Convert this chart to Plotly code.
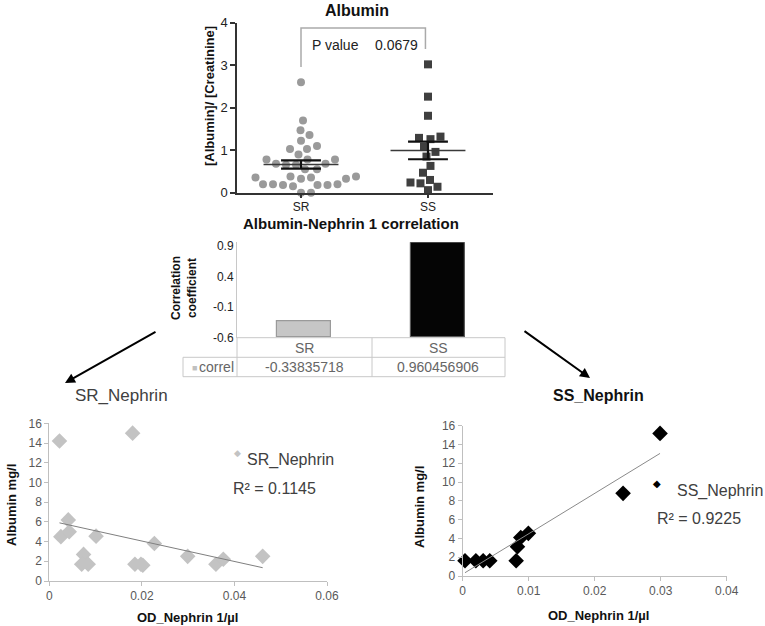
import numpy as np
import plotly.graph_objects as go

W, H = 765, 626
FONT = "Liberation Sans, Arial, sans-serif"

# ---------------- data ----------------
groups = ["SR", "SS"]
sr_ratio = [2.6, 1.7, 1.47, 1.36, 1.22, 1.1, 1.03, 1.03, 0.9, 0.78, 0.78, 0.78,
            0.68, 0.68, 0.66, 0.66, 0.55, 0.55, 0.38, 0.38, 0.36, 0.36, 0.33, 0.33,
            0.2, 0.2, 0.2, 0.18, 0.18, 0.18, 0.15, 0.0, 0.0]
ss_ratio = [3.02, 2.26, 1.81, 1.32, 1.26, 1.29, 1.08, 0.96, 0.85, 0.63, 0.47,
            0.3, 0.22, 0.14, 0.24, 0.06]
p_value_label = "0.0679"

correl_groups = ["SR", "SS"]
correl_values = [-0.33835718, 0.960456906]
correl_ticks = [-0.6, -0.1, 0.4, 0.9]

sr_x = [0.0022, 0.018, 0.0025, 0.0041, 0.0043, 0.0101, 0.0074, 0.007, 0.0084,
        0.0185, 0.0198, 0.0202, 0.0227, 0.0299, 0.036, 0.0376, 0.0461]
sr_y = [14.2, 15.0, 4.5, 6.2, 5.0, 4.55, 2.7, 1.7, 1.7, 1.7, 1.7, 1.6, 3.8,
        2.5, 1.7, 2.2, 2.5]
sr_trend_x = [0.0022, 0.0461]
sr_trend_y = [5.9, 1.35]
sr_r2 = "R² = 0.1145"

ss_x = [0.0299, 0.0243, 0.00995, 0.0088, 0.0083, 0.0081, 0.00035, 0.002,
        0.0031, 0.0041]
ss_y = [15.18, 8.8, 4.54, 4.1, 3.12, 1.63, 1.63, 1.63, 1.63, 1.63]
ss_trend_x = [0.00035, 0.0299]
ss_trend_y = [0.35, 13.05]
ss_r2 = "R² = 0.9225"

scatter_y_ticks = [0, 2, 4, 6, 8, 10, 12, 14, 16]
sr_x_ticks = [0, 0.02, 0.04, 0.06]
ss_x_ticks = [0, 0.01, 0.02, 0.03, 0.04]


def px(x):
    return x / W


def py(y):
    return 1 - y / H


# ---------------- top dot plot ----------------
X_RANGE = [0.496, 2.512]
SX = (493 - 237) / (X_RANGE[1] - X_RANGE[0])
SY = (192.7 - 22.7) / 4.0


def beeswarm(vals, d):
    placed = []
    res = [0.0] * len(vals)
    order = sorted(range(len(vals)), key=lambda i: vals[i])
    for i in order:
        yv = vals[i] * SY
        best = None
        k = 0
        while best is None:
            for s in ([0] if k == 0 else [1, -1]):
                xo = s * k * 0.5
                if all((xo - a) ** 2 + (yv - b) ** 2 >= d * d for a, b in placed):
                    best = xo
                    break
            k += 1
        placed.append((best, yv))
        res[i] = best / SX
    return res


fig = go.Figure()

for gi, (vals, sym, col) in enumerate([(sr_ratio, "circle", "#9a9a9a"),
                                       (ss_ratio, "square", "#3f3f3f")]):
    center = gi + 1
    offs = beeswarm(vals, 10.0)
    fig.add_trace(go.Scatter(
        x=[center + o for o in offs], y=vals, mode="markers",
        marker=dict(symbol=sym, size=8, color=col, line=dict(width=0)),
        xaxis="x", yaxis="y", cliponaxis=False, hoverinfo="skip"))
    m = float(np.mean(vals))
    sem = float(np.std(vals, ddof=1) / np.sqrt(len(vals)))
    fig.add_trace(go.Scatter(x=[center - 0.295, center + 0.295], y=[m, m],
                             mode="lines", line=dict(color="#3a3a3a", width=1.5),
                             xaxis="x", yaxis="y", hoverinfo="skip"))
    for yy in (m - sem, m + sem):
        fig.add_trace(go.Scatter(x=[center - 0.157, center + 0.157], y=[yy, yy],
                                 mode="lines", line=dict(color="#111", width=2.2),
                                 xaxis="x", yaxis="y", hoverinfo="skip"))
    fig.add_trace(go.Scatter(x=[center, center], y=[m - sem, m + sem],
                             mode="lines", line=dict(color="#111", width=2.2),
                             xaxis="x", yaxis="y", hoverinfo="skip"))

# ---------------- correlation bars ----------------
BASE = correl_ticks[0]
fig.add_trace(go.Bar(
    x=[1, 2], y=[v - BASE for v in correl_values], base=BASE, width=0.41,
    marker=dict(color=["#c6c6c6", "#050505"],
                line=dict(color=["#9a9a9a", "#5a5a5a"], width=1.2)),
    xaxis="x2", yaxis="y2", hoverinfo="skip"))

# ---------------- scatter plots ----------------
fig.add_trace(go.Scatter(x=sr_x, y=sr_y, mode="markers",
                         marker=dict(symbol="diamond", size=12, color="#c3c3c3"),
                         xaxis="x3", yaxis="y3", cliponaxis=False, hoverinfo="skip"))
fig.add_trace(go.Scatter(x=sr_trend_x, y=sr_trend_y, mode="lines",
                         line=dict(color="#7f7f7f", width=1),
                         xaxis="x3", yaxis="y3", hoverinfo="skip"))
fig.add_trace(go.Scatter(x=ss_x, y=ss_y, mode="markers",
                         marker=dict(symbol="diamond", size=12, color="#000000"),
                         xaxis="x4", yaxis="y4", cliponaxis=False, hoverinfo="skip"))
fig.add_trace(go.Scatter(x=ss_trend_x, y=ss_trend_y, mode="lines",
                         line=dict(color="#8a8a8a", width=1),
                         xaxis="x4", yaxis="y4", hoverinfo="skip"))

dark_axis = dict(showline=True, linecolor="#333", linewidth=1.5, ticks="outside",
                 ticklen=5, tickwidth=1.5, tickcolor="#333", showgrid=False,
                 zeroline=False, automargin=False,
                 tickfont=dict(family=FONT, size=13, color="#222"))
light_axis = dict(showline=True, linecolor="#bfbfbf", linewidth=1, ticks="outside",
                  ticklen=4, tickcolor="#bfbfbf", showgrid=False, zeroline=False,
                  automargin=False,
                  tickfont=dict(family=FONT, size=12, color="#595959"))

fig.update_layout(
    template="none",
    width=W, height=H, margin=dict(l=0, r=0, t=0, b=0, pad=0, autoexpand=False),
    paper_bgcolor="white", plot_bgcolor="white", showlegend=False,
    bargap=0,
    xaxis=dict(domain=[px(237), px(493)], range=X_RANGE, tickvals=[1, 2],
               ticktext=groups, anchor="y", ticklabelstandoff=-2,
               **{**dark_axis, "ticklen": 4,
                  "tickfont": dict(family=FONT, size=12, color="#222")}),
    yaxis=dict(domain=[py(192.7), py(22.7)], range=[0, 4], tickvals=[0, 1, 2, 3, 4],
               anchor="x", **dark_axis),
    xaxis2=dict(domain=[px(237), px(505)], range=[0.5, 2.5], showticklabels=False,
                showline=False, showgrid=False, zeroline=False, ticks="",
                automargin=False, anchor="y2"),
    yaxis2=dict(domain=[py(337.7), py(242.3)], range=[-0.6, 0.96],
                tickvals=correl_ticks, ticktext=[f"{t:g}" for t in correl_ticks],
                showline=True, linecolor="#c8c8c8", linewidth=1, ticks="",
                showgrid=False, zeroline=False, anchor="x2", automargin=False,
                tickfont=dict(family=FONT, size=12, color="#222")),
    xaxis3=dict(domain=[px(49.3), px(327)], range=[0, 0.06], tickvals=sr_x_ticks,
                ticktext=[f"{t:g}" for t in sr_x_ticks], anchor="y3", **light_axis),
    yaxis3=dict(domain=[py(581), py(423.3)], range=[0, 16], tickvals=scatter_y_ticks,
                anchor="x3", **light_axis),
    xaxis4=dict(domain=[px(462.7), px(726.7)], range=[0, 0.04], tickvals=ss_x_ticks,
                ticktext=[f"{t:g}" for t in ss_x_ticks], anchor="y4", **light_axis),
    yaxis4=dict(domain=[py(576), py(425.7)], range=[0, 16], tickvals=scatter_y_ticks,
                anchor="x4", **light_axis),
)

ann = []


def text(x, y, t, size, color="#222", bold=False, xanchor="center", angle=0):
    ann.append(dict(x=px(x), y=py(y), xref="paper", yref="paper",
                    text=f"<b>{t}</b>" if bold else t,
                    showarrow=False, xanchor=xanchor, yanchor="middle", textangle=angle,
                    font=dict(family=FONT, size=size, color=color)))


# top chart texts
text(357, 11, "Albumin", 16, "#111", bold=True)
text(209, 96, "[Albumin]/ [Creatinine]", 13, "#111", bold=True, angle=-90)
text(310, 45, "P value", 14, "#222", xanchor="left")
text(373, 45, p_value_label, 14, "#222", xanchor="left")

# middle chart texts
text(351, 223, "Albumin-Nephrin 1 correlation", 15, "#111", bold=True)
text(184, 288, "Correlation<br>coefficient", 12, "#111", bold=True, angle=-90)
text(304.5, 347.5, correl_groups[0], 14, "#666")
text(438.5, 347.5, correl_groups[1], 14, "#666")
text(197, 367, "correl", 14, "#666", xanchor="left")
text(304.5, 367, f"{correl_values[0]:.8f}", 14, "#666")
text(438.5, 367, f"{correl_values[1]:.9f}", 14, "#666")
ann.append(dict(x=px(190), y=py(367.5), xref="paper", yref="paper", text="■",
                showarrow=False, font=dict(family=FONT, size=9, color="#c0c0c0")))

# bottom-left
text(122, 395, "SR_Nephrin", 17, "#404040")
text(11, 505, "Albumin mg/l", 13, "#111", bold=True, angle=-90)
text(187, 617, "OD_Nephrin 1/µl", 13, "#111", bold=True)
ann.append(dict(x=px(232), y=py(460), xref="paper", yref="paper", text="◆",
                showarrow=False, font=dict(family="DejaVu Sans", size=9, color="#c3c3c3")))
text(245, 460, "SR_Nephrin", 16, "#404040", xanchor="left")
text(231, 488, sr_r2, 16, "#404040", xanchor="left")

# bottom-right
text(598, 395, "SS_Nephrin", 16, "#111", bold=True)
text(419, 507, "Albumin mg/l", 13, "#111", bold=True, angle=-90)
text(598, 615, "OD_Nephrin 1/µl", 13, "#111", bold=True)
ann.append(dict(x=px(663), y=py(491), xref="paper", yref="paper", text="◆",
                showarrow=False, font=dict(family="DejaVu Sans", size=10, color="#000")))
text(675, 491, "SS_Nephrin", 16, "#404040", xanchor="left")
text(655, 518, ss_r2, 16, "#404040", xanchor="left")

# arrows
ann.append(dict(x=px(65), y=py(383), xref="paper", yref="paper", ax=92, ay=-52,
                showarrow=True, arrowhead=2, arrowsize=1, arrowwidth=2,
                arrowcolor="#000", text=""))
ann.append(dict(x=px(590), y=py(378), xref="paper", yref="paper", ax=-67, ay=-48,
                showarrow=True, arrowhead=2, arrowsize=1, arrowwidth=2,
                arrowcolor="#000", text=""))

shapes = []
shapes.append(dict(type="path", xref="x", yref="y",
                   path="M 1,2.96 L 1,3.875 L 1.98,3.875 L 1.98,3.38",
                   line=dict(color="#aaaaaa", width=1.5)))
TL = "#c8c8c8"
for (x0, y0, x1, y1) in [(237, 337.7, 505, 337.7), (183, 357.3, 505, 357.3),
                         (183, 376.7, 505, 376.7), (183, 357.3, 183, 376.7),
                         (237, 337.7, 237, 376.7), (372, 337.7, 372, 376.7),
                         (505, 337.7, 505, 376.7)]:
    shapes.append(dict(type="line", xref="paper", yref="paper", x0=px(x0), y0=py(y0),
                       x1=px(x1), y1=py(y1), line=dict(color=TL, width=1)))

fig.update_layout(annotations=ann, shapes=shapes)
fig.write_html("out.html", config={"displayModeBar": False},
               post_script="document.body.style.margin='0';"
                           "document.body.style.overflow='hidden';")
